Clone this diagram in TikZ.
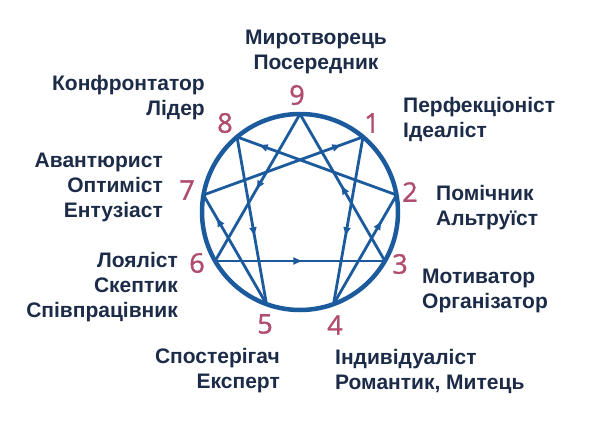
\documentclass[tikz,border=0pt]{standalone}
\usepackage{fontspec}
\setmainfont{Liberation Sans}
\newfontfamily\digitfont[FakeBold=1.2]{Open Sans}
\usepackage{tikz}
\usetikzlibrary{calc}
\usetikzlibrary{arrows.meta}
\usetikzlibrary{decorations.markings}

\definecolor{ringblue}{HTML}{1B5A9C}
\definecolor{numrose}{HTML}{B04C6C}
\definecolor{labelnavy}{HTML}{1C2B47}

\tikzset{
  typelabel/.style={text=labelnavy,font=\bfseries\fontsize{21}{25}\selectfont,inner sep=0pt},
  numlabel/.style={text=numrose,font=\digitfont\fontsize{27}{27}\selectfont,inner sep=0pt},
  chord/.style={draw=ringblue,line width=2.8pt},
  arrowat/.style={postaction={decorate,decoration={markings,mark=at position #1 with {\arrow{Latex[length=10pt,width=8pt]}}}}}
}

\begin{document}
\begin{tikzpicture}[x=1pt,y=-1pt]
  \useasboundingbox (0,0) rectangle (600,423);

  \coordinate (c) at (300,212);
  \foreach \k in {1,...,9} \coordinate (p\k) at ($(c)+(40*\k-90:98)$);

  \path[chord,arrowat=0.52] (p9) -- (p6);
  \path[chord,arrowat=0.52] (p6) -- (p3);
  \path[chord,arrowat=0.52] (p3) -- (p9);

  \path[chord,arrowat=0.6] (p1) -- (p4);
  \path[chord,arrowat=0.77] (p4) -- (p2);
  \path[chord,arrowat=0.87] (p2) -- (p8);
  \path[chord,arrowat=0.6] (p8) -- (p5);
  \path[chord,arrowat=0.8] (p5) -- (p7);
  \path[chord,arrowat=0.87] (p7) -- (p1);

  \draw[ringblue,line width=4.5pt] (c) circle[radius=98];

  \node[numlabel] (n9) at (297,95) {9};
  \node[numlabel] (n1) at (372,123) {1};
  \node[numlabel] (n2) at (410,192) {2};
  \node[numlabel] (n3) at (400,264) {3};
  \node[numlabel] (n4) at (335,325) {4};
  \node[numlabel] (n5) at (265,324) {5};
  \node[numlabel] (n6) at (197,263) {6};
  \node[numlabel] (n7) at (187,190) {7};
  \node[numlabel] (n8) at (225,123) {8};

  \node[typelabel,align=center] (t9) at (316,51.5) {Миротворець\\Посередник};
  \node[typelabel,align=left,anchor=west] (t1) at (403,119.5) {Перфекціоніст\\Ідеаліст};
  \node[typelabel,align=left,anchor=west] (t2) at (436,207.5) {Помічник\\Альтруїст};
  \node[typelabel,align=left,anchor=west] (t3) at (422,290.5) {Мотиватор\\Організатор};
  \node[typelabel,align=left,anchor=west] (t4) at (335,371.5) {Індивідуаліст\\Романтик, Митець};
  \node[typelabel,align=right,anchor=east] (t5) at (280,371) {Спостерігач\\Експерт};
  \node[typelabel,align=right,anchor=east] (t6) at (178,287.5) {Лояліст\\Скептик\\Співпрацівник};
  \node[typelabel,align=right,anchor=east] (t7) at (163,187.5) {Авантюрист\\Оптиміст\\Ентузіаст};
  \node[typelabel,align=right,anchor=east] (t8) at (205,97.5) {Конфронтатор\\Лідер};
\end{tikzpicture}
\end{document}
